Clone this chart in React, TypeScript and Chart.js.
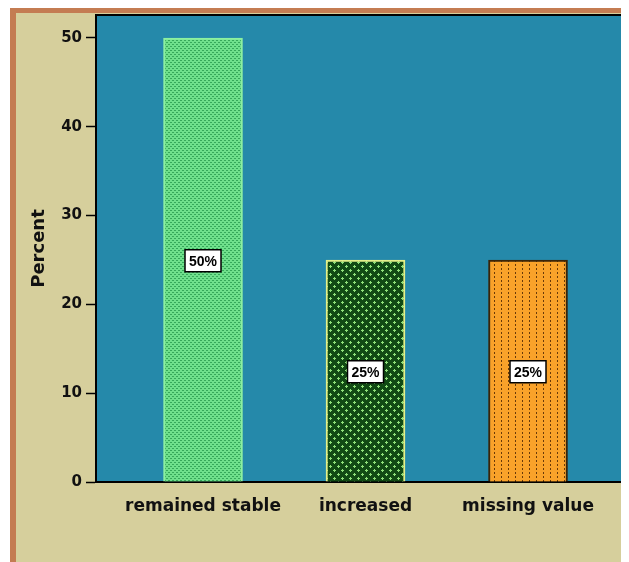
import React, { useEffect, useRef } from "react";
import { Chart, registerables } from "chart.js";

Chart.register(...registerables);

const categories = ["remained stable", "increased", "missing value"];
const percents = [50, 25, 25];
const yTicks = [0, 10, 20, 30, 40, 50];

function makePattern(kind: string): CanvasPattern | string {
  const c = document.createElement("canvas");
  const ctx = c.getContext("2d")!;
  if (kind === "green") {
    c.width = 4; c.height = 4;
    ctx.fillStyle = "#6fe08c"; ctx.fillRect(0, 0, 4, 4);
    ctx.fillStyle = "#36a85a";
    ctx.fillRect(0, 0, 2, 1);
    ctx.fillRect(2, 2, 2, 1);
  } else if (kind === "cross") {
    c.width = 8; c.height = 8;
    ctx.fillStyle = "#114a14"; ctx.fillRect(0, 0, 8, 8);
    ctx.fillStyle = "#8fe07a";
    ctx.fillRect(1, 2, 3, 1); ctx.fillRect(2, 1, 1, 3);
    ctx.fillRect(5, 6, 3, 1); ctx.fillRect(6, 5, 1, 3);
  } else {
    c.width = 7; c.height = 4;
    ctx.fillStyle = "#f9a22a"; ctx.fillRect(0, 0, 7, 4);
    ctx.fillStyle = "#6a3a08";
    ctx.fillRect(3, 0, 1, 2);
  }
  return ctx.createPattern(c, "repeat") || "#888";
}

const bgPlugin = {
  id: "bgPlugin",
  beforeDraw(chart: any) {
    const { ctx, width, height, chartArea } = chart;
    ctx.save();
    ctx.fillStyle = "#ffffff";
    ctx.fillRect(0, 0, width, height);
    ctx.fillStyle = "#d6cf9c";
    ctx.fillRect(2, 0, width - 2, height);
    ctx.fillStyle = "#c47c52";
    ctx.fillRect(2, 0, 6, height);
    ctx.fillRect(2, 0, width - 2, 5);
    ctx.fillStyle = "#2589aa";
    ctx.fillRect(chartArea.left, chartArea.top, chartArea.right - chartArea.left, chartArea.bottom - chartArea.top);
    ctx.strokeStyle = "#000";
    ctx.lineWidth = 2;
    ctx.beginPath();
    ctx.moveTo(chartArea.left, chartArea.top);
    ctx.lineTo(chartArea.right, chartArea.top);
    ctx.stroke();
    ctx.restore();
  },
};

const labelPlugin = {
  id: "labelPlugin",
  afterDatasetsDraw(chart: any) {
    const { ctx } = chart;
    const meta = chart.getDatasetMeta(0);
    ctx.save();
    ctx.font = "bold 14px 'Liberation Sans'";
    ctx.textAlign = "center";
    ctx.textBaseline = "middle";
    meta.data.forEach((bar: any, i: number) => {
      const cx = bar.x;
      const cy = (bar.y + bar.base) / 2 + 1;
      const w = 36, h = 22;
      ctx.fillStyle = "#fff";
      ctx.fillRect(cx - w / 2, cy - h / 2, w, h);
      ctx.strokeStyle = "#000";
      ctx.lineWidth = 1.5;
      ctx.strokeRect(cx - w / 2, cy - h / 2, w, h);
      ctx.fillStyle = "#000";
      ctx.fillText(percents[i] + "%", cx, cy + 1);
    });
    ctx.restore();
  },
};

export default function App() {
  const ref = useRef<HTMLCanvasElement>(null);
  useEffect(() => {
    const fills = [makePattern("green"), makePattern("cross"), makePattern("orange")];
    const chart = new Chart(ref.current!, {
      type: "bar",
      data: {
        datasets: [
          {
            data: categories.map((_, i) => ({ x: i + 1, y: percents[i] })),
            backgroundColor: fills as any,
            borderColor: ["#8cf0a0", "#e4f08a", "#3a2408"],
            borderWidth: 2,
            barThickness: 79,
          },
        ],
      },
      options: {
        animation: false,
        responsive: false,
        layout: { padding: { top: 7, right: 0, left: 0, bottom: 0 } },
        plugins: { legend: { display: false }, tooltip: { enabled: false } },
        scales: {
          x: {
            type: "linear",
            offset: false,
            min: 0.3415,
            max: 3.6215,
            afterBuildTicks: (s: any) => {
              s.ticks = categories.map((_, i) => ({ value: i + 1 }));
            },
            afterFit: (s: any) => {
              s.height = 80;
              s.paddingLeft = 0;
              s.paddingRight = 0;
            },
            grid: { display: false, drawTicks: false },
            border: { display: true, color: "#000", width: 2 },
            ticks: {
              callback: (v: any) => categories[Number(v) - 1] ?? "",
              color: "#111",
              font: { family: "'DejaVu Sans'", size: 17, weight: "bold" },
              padding: 14,
              maxRotation: 0,
              autoSkip: false,
            },
          },
          y: {
            min: 0,
            max: 52.59,
            afterBuildTicks: (s: any) => {
              s.ticks = yTicks.map((v) => ({ value: v }));
            },
            afterFit: (s: any) => {
              s.width = 88;
              s.paddingTop = 0;
              s.paddingBottom = 0;
            },
            grid: { drawOnChartArea: false, color: "#000", tickLength: 10, tickWidth: 1.5 },
            border: { display: true, color: "#000", width: 2 },
            ticks: {
              color: "#111",
              font: { family: "'DejaVu Sans'", size: 15, weight: "bold" },
              padding: 4,
            },
            title: {
              display: true,
              text: "Percent",
              color: "#111",
              font: { family: "'DejaVu Sans'", size: 18, weight: "bold" },
              padding: { top: 21, bottom: 0 },
            },
          },
        },
      },
      plugins: [bgPlugin, labelPlugin],
    });
    return () => chart.destroy();
  }, []);
  return <canvas ref={ref} width={621} height={554} style={{ display: "block" }} />;
}
